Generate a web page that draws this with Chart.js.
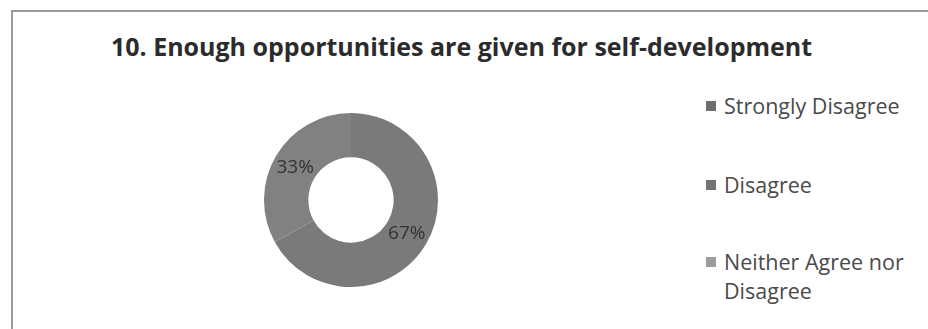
<!DOCTYPE html>
<html>
<head>
<meta charset="utf-8">
<script src="https://cdn.jsdelivr.net/npm/chart.js@4.4.1/dist/chart.umd.min.js"></script>
<style>
  html, body { margin: 0; padding: 0; background: #fff; }
  #page { position: relative; width: 928px; height: 329px; overflow: hidden; background: #fff; }
  #frame { position: absolute; left: 11px; top: 10px; width: 930px; height: 330px;
           border-left: 2px solid #9a9a9a; border-top: 2px solid #9a9a9a; }
  #title { position: absolute; left: 0; top: 31px; width: 923px; text-align: center;
           font-family: "Open Sans", sans-serif; font-weight: bold; font-size: 25px;
           line-height: 30px; color: #2b2b2b; }
  #donut { position: absolute; left: 251px; top: 113px; }
  #legend { position: absolute; left: 706px; top: 0; font-family: "Open Sans", sans-serif;
            font-size: 21.5px; color: #4a4a4a; line-height: 29px; }
  .item { position: absolute; left: 0; white-space: nowrap; }
  .box { position: absolute; left: 0; top: 10px; width: 10px; height: 10px; }
  .txt { position: absolute; left: 18px; top: 0; }
</style>
</head>
<body>
<div id="page">
  <div id="frame"></div>
  <div id="title"></div>
  <canvas id="donut" width="200" height="174"></canvas>
  <div id="legend"></div>
</div>
<script>
// chart values
const chartTitle = "10. Enough opportunities are given for self-development";
const categories = ["Strongly Disagree", "Disagree", "Neither Agree nor Disagree"];
const legendLines = [["Strongly Disagree"], ["Disagree"], ["Neither Agree nor", "Disagree"]];
const percentages = [0, 67, 33];
const sliceColors = ["#6a6a6a", "#7a7a7a", "#818181"];
const markerColors = ["#6e6e6e", "#737373", "#9c9c9c"];

document.getElementById("title").textContent = chartTitle;

// legend as html so the two-line label can wrap like the original
const legendTops = [91, 170, 247];
const legend = document.getElementById("legend");
legendLines.forEach((lines, i) => {
    const item = document.createElement("div");
    item.className = "item";
    item.style.top = legendTops[i] + "px";
    const box = document.createElement("div");
    box.className = "box";
    box.style.background = markerColors[i];
    const txt = document.createElement("div");
    txt.className = "txt";
    txt.innerHTML = lines.join("<br>");
    item.appendChild(box);
    item.appendChild(txt);
    legend.appendChild(item);
});

// draws the percent text in the middle of each ring slice
const sliceLabels = {
    id: "sliceLabels",
    afterDatasetsDraw(chart) {
        const ctx = chart.ctx;
        const meta = chart.getDatasetMeta(0);
        ctx.save();
        ctx.font = "19px 'Open Sans', sans-serif";
        ctx.fillStyle = "#333";
        ctx.textAlign = "center";
        ctx.textBaseline = "middle";
        meta.data.forEach((arc, i) => {
            const v = chart.data.datasets[0].data[i];
            if (!v) return;
            const p = arc.tooltipPosition();
            ctx.fillText(v + "%", p.x, p.y + 1);
        });
        ctx.restore();
    }
};

new Chart("donut", {
    type: "doughnut",
    data: {
        labels: categories,
        datasets: [{
            data: percentages,
            backgroundColor: sliceColors,
            borderWidth: 0
        }]
    },
    options: {
        responsive: false,
        animation: false,
        cutout: "49%",
        layout: { padding: 0 },
        plugins: {
            legend: { display: false },
            tooltip: { enabled: false },
            title: { display: false }
        }
    },
    plugins: [sliceLabels]
});
</script>
</body>
</html>
